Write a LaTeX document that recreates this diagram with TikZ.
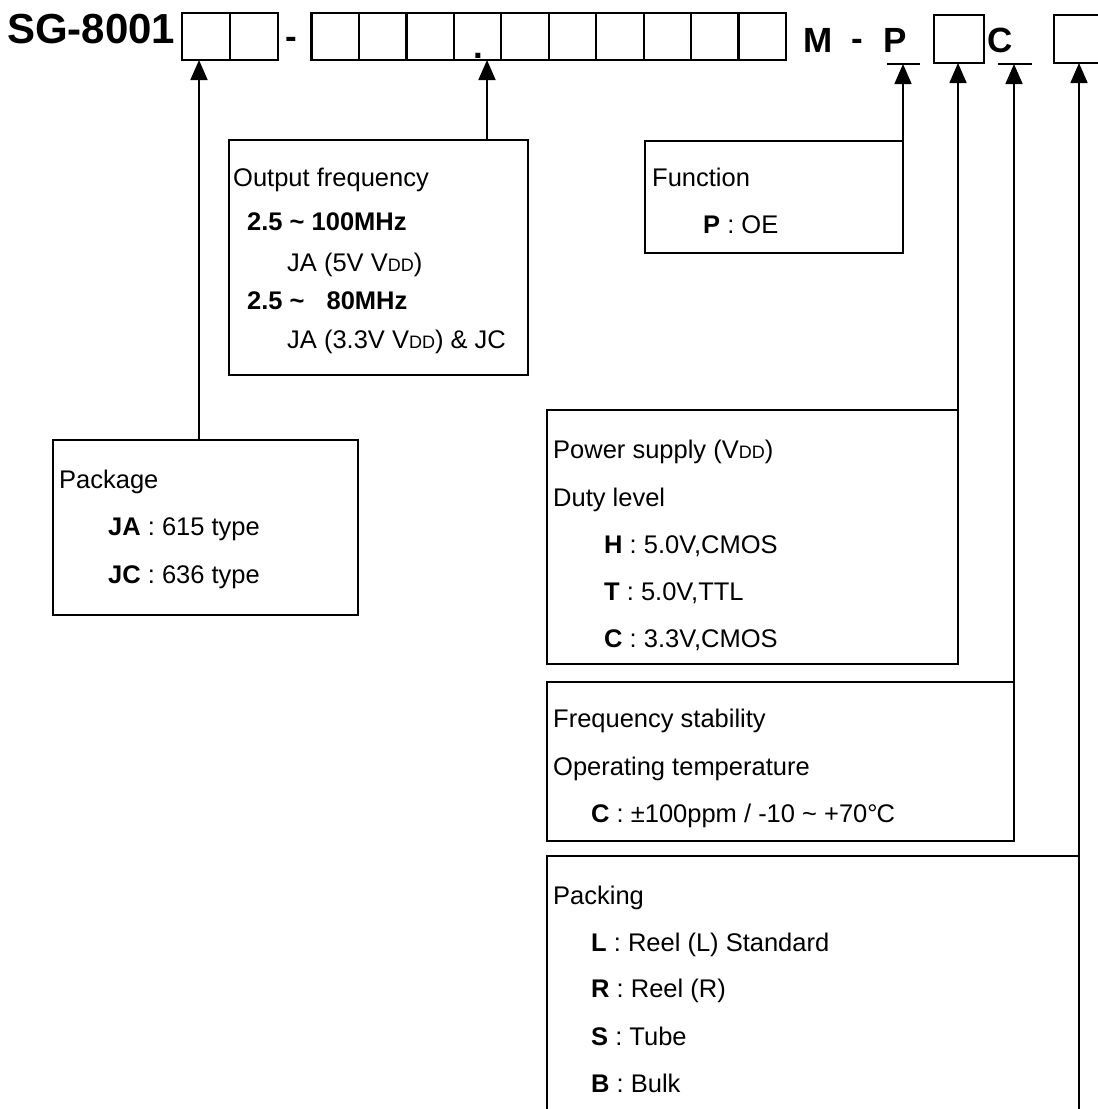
\documentclass[tikz,border=0pt]{standalone}
\usepackage{fontspec}
\setmainfont{Liberation Sans}
\usetikzlibrary{arrows.meta}
\newcommand{\sdd}{{\fontsize{18pt}{18pt}\selectfont DD}}
\begin{document}
\begin{tikzpicture}[x=1pt,y=-1pt,
  box/.style={draw, line width=1.9pt, inner sep=0pt, outer sep=0pt},
  cell/.style={draw, line width=2.3pt, inner sep=0pt, outer sep=0pt, minimum height=47pt},
  txt/.style={anchor=base west, inner sep=0pt, font=\fontsize{25.5pt}{30pt}\selectfont},
  big/.style={anchor=base west, inner sep=0pt, font=\fontsize{42pt}{48pt}\selectfont\bfseries},
  mid/.style={anchor=base west, inner sep=0pt, font=\fontsize{35pt}{40pt}\selectfont\bfseries},
  arr/.style={line width=1.7pt, -{Triangle[length=20pt,width=17pt]}},
  uline/.style={line width=2pt}
  ]
\useasboundingbox (0,0) rectangle (1098,1109);
\clip (0,0) rectangle (1098,1109);

% ---------- top code line ----------
\node[big] (title) at (7,43) {SG-8001};
\node[cell, anchor=north west, minimum width=48pt] (g1a) at (182,13) {};
\node[cell, anchor=north west, minimum width=48pt] (g1b) at (230,13) {};
\node[mid] (dash1) at (285,48) {-};
\foreach \i in {1,...,10}{
  \node[cell, anchor=north west, minimum width=47.45pt] (g2-\i) at ({311.5+47.45*(\i-1)},13) {};
}
\node[mid, anchor=base] (dot) at (478,58) {.};
\node[mid] (M) at (803,52) {M};
\node[mid] (dash2) at (851,50) {-};
\node[mid] (P) at (883,52) {P};
\coordinate (uP1) at (887,64);
\coordinate (uP2) at (920,64);
\draw[uline] (uP1) -- (uP2);
\node[cell, anchor=north west, minimum width=50pt, minimum height=48pt] (b3) at (934,15) {};
\node[mid] (C) at (987,52) {C};
\coordinate (uC1) at (998,64);
\coordinate (uC2) at (1032,64);
\draw[uline] (uC1) -- (uC2);
\node[cell, anchor=north west, minimum width=70pt, minimum height=48pt] (b4) at (1054,15) {};

% ---------- boxes ----------
\node[box, anchor=north west, minimum width=299pt, minimum height=235pt] (outbox) at (229,140) {};
\node[box, anchor=north west, minimum width=258pt, minimum height=112pt] (funcbox) at (645,141) {};
\node[box, anchor=north west, minimum width=305pt, minimum height=175pt] (pkgbox) at (53,440) {};
\node[box, anchor=north west, minimum width=411pt, minimum height=254pt] (powbox) at (547,410) {};
\node[box, anchor=north west, minimum width=467pt, minimum height=159pt] (frqbox) at (547,682) {};
\coordinate (packTL) at (547,856);
\coordinate (packTR) at (1079,856);
\coordinate (packBL) at (547,1115);
\coordinate (packBR) at (1079,1115);
\draw[line width=1.9pt] (packBL) -- (packTL) -- (packTR);

% ---------- connectors ----------
\coordinate (cPkg) at (199,440);
\draw[arr] (cPkg) -- (cPkg |- g1a.south);
\coordinate (cOut) at (487,140);
\draw[arr] (cOut) -- (cOut |- g2-4.south);
\draw[arr] (funcbox.north east) -- (funcbox.north east |- uP1);
\draw[arr] (powbox.north east) -- (powbox.north east |- b3.south);
\draw[arr] (frqbox.north east) -- (frqbox.north east |- uC1);
\draw[arr] (packBR) -- (packBR |- b4.south);

% ---------- texts ----------
\node[txt] (of1) at (233,186) {Output frequency};
\node[txt] (of2) at (247,230) {\bfseries 2.5 \textasciitilde\ 100MHz};
\node[txt] (of3) at (287,271) {JA (5V V\sdd)};
\node[txt] (of4) at (247,309) {\bfseries 2.5 \textasciitilde\hspace{22pt}80MHz};
\node[txt] (of5) at (287,348) {JA (3.3V V\sdd) \& JC};

\node[txt] (fn1) at (652,186) {Function};
\node[txt] (fn2) at (703,233) {\textbf{P} : OE};

\node[txt] (pk1) at (59,488) {Package};
\node[txt] (pk2) at (108,535) {\textbf{JA} : 615 type};
\node[txt] (pk3) at (108,583) {\textbf{JC} : 636 type};

\node[txt] (pw1) at (553,458) {Power supply (V\sdd)};
\node[txt] (pw2) at (553,506) {Duty level};
\node[txt] (pw3) at (604,553) {\textbf{H} : 5.0V,CMOS};
\node[txt] (pw4) at (604,600) {\textbf{T} : 5.0V,TTL};
\node[txt] (pw5) at (604,647) {\textbf{C} : 3.3V,CMOS};

\node[txt] (fs1) at (553,727) {Frequency stability};
\node[txt] (fs2) at (553,775) {Operating temperature};
\node[txt] (fs3) at (591,822) {\textbf{C} : ±100ppm / -10 \textasciitilde\ +70°\kern-1pt C};

\node[txt] (pc1) at (553,904) {Packing};
\node[txt] (pc2) at (591,951) {\textbf{L} : Reel (L) Standard};
\node[txt] (pc3) at (591,997) {\textbf{R} : Reel (R)};
\node[txt] (pc4) at (591,1045) {\textbf{S} : Tube};
\node[txt] (pc5) at (591,1092) {\textbf{B} : Bulk};
\end{tikzpicture}
\end{document}
